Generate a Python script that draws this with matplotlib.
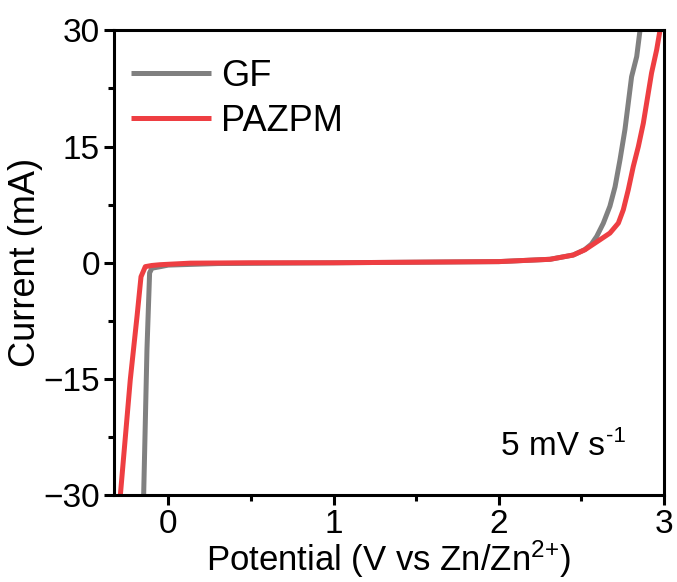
import matplotlib
matplotlib.use("Agg")
import matplotlib.pyplot as plt
from matplotlib.ticker import MultipleLocator

plt.rcParams['font.family'] = ['Liberation Sans', 'DejaVu Sans']
plt.rcParams['mathtext.fontset'] = 'custom'
plt.rcParams['mathtext.rm'] = 'Liberation Sans'
plt.rcParams['mathtext.it'] = 'Liberation Sans'

# LSV curves (potential in V, current in mA)
gf_v = [-0.149, -0.129, -0.113, -0.099, -0.048, 0.0, 0.3, 1.0, 2.0, 2.31,
        2.45, 2.52, 2.56, 2.592, 2.632, 2.672, 2.703, 2.733, 2.763, 2.783,
        2.803, 2.834, 2.854]
gf_i = [-30.0, -11.2, -1.3, -0.7, -0.5, -0.3, -0.1, 0.0, 0.15, 0.45,
        1.0, 1.7, 2.4, 3.4, 5.1, 7.3, 9.8, 13.3, 17.2, 20.6,
        24.0, 26.6, 30.0]
pm_v = [-0.290, -0.230, -0.189, -0.165, -0.139, -0.10, -0.05, 0.133, 0.5,
        1.0, 2.0, 2.31, 2.45, 2.521, 2.612, 2.672, 2.723, 2.753, 2.783,
        2.813, 2.844, 2.874, 2.894, 2.924, 2.955, 2.975]
pm_i = [-30.0, -15.1, -6.9, -1.8, -0.5, -0.35, -0.25, -0.05, 0.0,
        0.0, 0.15, 0.45, 1.0, 1.68, 2.97, 3.83, 5.12, 6.84, 9.42,
        12.4, 15.0, 18.0, 20.6, 24.5, 27.5, 30.0]

fig, ax = plt.subplots(figsize=(6.77, 5.82), dpi=100)
fig.subplots_adjust(left=0.168, right=0.981, top=0.948, bottom=0.149)

ax.plot(gf_v, gf_i, color="#808080", lw=3.6, label="GF",
        solid_joinstyle="round", solid_capstyle="butt")
ax.plot(pm_v, pm_i, color="#EE3E42", lw=3.6, label="PAZPM",
        solid_joinstyle="round", solid_capstyle="butt")

ax.set_xlim(-0.33, 3.0)
ax.set_ylim(-30, 30)
ax.xaxis.set_major_locator(MultipleLocator(1))
ax.xaxis.set_minor_locator(MultipleLocator(0.5))
ax.yaxis.set_minor_locator(MultipleLocator(7.5))
ax.set_yticks([-30, -15, 0, 15, 30])
ax.set_yticklabels(["\u221230", "\u221215", "0", "15", "30"])

for s in ax.spines.values():
    s.set_linewidth(2.2)
ax.tick_params(which="major", direction="out", length=7, width=2.2,
               labelsize=24, pad=3)
ax.tick_params(which="minor", direction="out", length=4, width=2.2)

ax.set_xlabel("Potential (V vs Zn/Zn$^{2{+}}$)", fontsize=25, labelpad=-1)
ax.set_ylabel("Current (mA)", fontsize=26, labelpad=0)

ax.legend(loc="upper left", bbox_to_anchor=(0.012, 0.962), frameon=False,
          fontsize=26, handlelength=2.2, handletextpad=0.28,
          borderaxespad=0, borderpad=0.3, labelspacing=0.28)

# scan rate note, superscript drawn as its own small text after the main one
note = ax.text(0.704, 0.086, "5 mV s", transform=ax.transAxes, fontsize=24,
               ha="left", va="baseline")
ax.annotate("-1", xy=(1, 1), xycoords=note, xytext=(0.5, 4),
            textcoords="offset points", fontsize=16, ha="left", va="top")

fig.savefig("out.png", dpi=100)
